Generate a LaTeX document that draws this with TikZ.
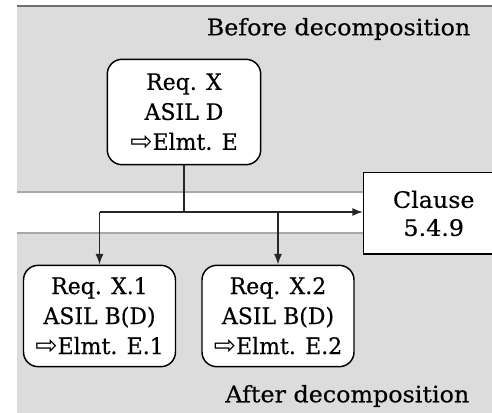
\documentclass[tikz,border=0pt]{standalone}
\usepackage{fontspec}
\setmainfont[FakeStretch=1.05,FakeBold=0.4]{DejaVu Serif}
\newfontfamily\boxfont[FakeStretch=0.97,FakeBold=0.4]{DejaVu Serif}
\newfontfamily\arrowfont{DejaVu Sans}
\usetikzlibrary{arrows.meta}
\definecolor{bandgray}{HTML}{DCDCDC}
\definecolor{edgegray}{HTML}{A8A8A8}
\definecolor{topline}{HTML}{707070}
% hollow "implemented by" arrow, a bit larger than the text
\newcommand{\impl}{\raisebox{-0.6pt}{\arrowfont\fontsize{20}{20}\selectfont\char"21E8}}
\tikzset{
  req/.style={draw=black, line width=1.1pt, fill=white, rounded corners=11pt,
    align=center, font=\boxfont\fontsize{17}{22.5}\selectfont, inner sep=0pt},
  flow/.style={draw=black!85, line width=1.1pt, -{Latex[length=8pt,width=6pt]}},
  link/.style={draw=black!85, line width=1.1pt},
  caption/.style={font=\fontsize{17}{20}\selectfont, anchor=east}
}
\begin{document}
\begin{tikzpicture}[x=0.75pt,y=-0.75pt]
  \useasboundingbox (0,0) rectangle (492,413);
  \clip (0,0) rectangle (492,413);
  % shaded bands: before (top) and after (bottom)
  \fill[bandgray] (17,6) rectangle (492,192);
  \fill[bandgray] (17,233) rectangle (492,413);
  \draw[topline, line width=1.4pt] (17,6) -- (492,6);
  \draw[edgegray, line width=0.9pt] (17,192) -- (492,192);
  \draw[edgegray, line width=0.9pt] (17,233) -- (492,233);
  \node[caption] (before) at (475,29) {Before decomposition};
  \node[caption] (after) at (474,396) {After decomposition};
  % requirements
  \node[req, minimum width=115pt, minimum height=79pt] (reqx) at (184,112)
    {Req. X\\ASIL D\\\impl Elmt. E};
  \node[req, minimum width=114pt, minimum height=76pt] (reqx1) at (99.5,316)
    {Req. X.1\\ASIL B(D)\\\impl Elmt. E.1};
  \node[req, minimum width=114pt, minimum height=76pt] (reqx2) at (278,316)
    {Req. X.2\\ASIL B(D)\\\impl Elmt. E.2};
  % clause box, running off the right edge
  \node[draw=black, line width=1.1pt, fill=white, anchor=north west,
    minimum width=105pt, minimum height=61pt, inner sep=0pt,
    align=center, font=\fontsize{17}{21}\selectfont]
    (clause) at (363,172) {Clause\\5.4.9};
  % decomposition connectors
  \coordinate (split) at (reqx.south |- 0,212);
  \coordinate (left) at (reqx1.north |- 0,212);
  \coordinate (mid) at (reqx2.north |- 0,212);
  \draw[link] (reqx.south) -- (split);
  \draw[flow] (left) -- (clause.west |- split);
  \draw[flow] (left) -- (reqx1.north);
  \draw[flow] (mid) -- (reqx2.north);
\end{tikzpicture}
\end{document}
